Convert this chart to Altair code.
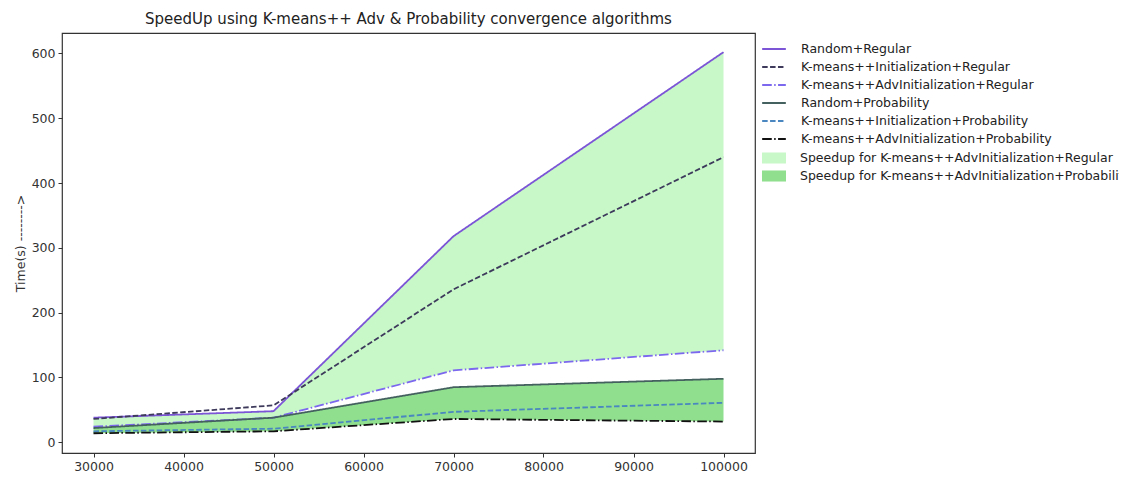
import altair as alt
import pandas as pd

# ---- data ----
sizes = [30000, 50000, 70000, 100000]
random_regular = [38, 48, 318, 602]
init_regular = [36, 57, 236, 440]
adv_regular = [24, 38, 111, 142]
random_prob = [22, 38, 85, 98]
init_prob = [17, 21, 47, 61]
adv_prob = [14, 17, 36, 32]

series_names = [
    "Random+Regular",
    "K-means++Initialization+Regular",
    "K-means++AdvInitialization+Regular",
    "Random+Probability",
    "K-means++Initialization+Probability",
    "K-means++AdvInitialization+Probability",
]
fill_names = [
    "Speedup for K-means++AdvInitialization+Regular",
    "Speedup for K-means++AdvInitialization+Probability",
]
series_values = [random_regular, init_regular, adv_regular, random_prob, init_prob, adv_prob]

line_colors = ["#7b55d6", "#3d3a5c", "#7b68ee", "#44605f", "#4a86bf", "#111111"]
fill_colors = ["#c8f8c8", "#8fdf8f"]

dash_solid = [1, 0]
dash_dashed = [5.5, 2.4]
dash_dashdot = [9.6, 2.4, 1.5, 2.4]
dashes = [dash_solid, dash_dashed, dash_dashdot, dash_solid, dash_dashed, dash_dashdot]

rows = []
for name, vals in zip(series_names, series_values):
    for xv, yv in zip(sizes, vals):
        rows.append({"size": xv, "time": yv, "series": name})
lines_df = pd.DataFrame(rows)

area_rows = []
for xv, hi, lo in zip(sizes, random_regular, adv_regular):
    area_rows.append({"size": xv, "hi": hi, "lo": lo, "band": fill_names[0]})
for xv, hi, lo in zip(sizes, random_prob, adv_prob):
    area_rows.append({"size": xv, "hi": hi, "lo": lo, "band": fill_names[1]})
area_df = pd.DataFrame(area_rows)

font = "DejaVu Sans"

x_enc = alt.X(
    "size:Q",
    scale=alt.Scale(domain=[26500, 103500], nice=False, zero=False),
    axis=alt.Axis(values=[30000, 40000, 50000, 60000, 70000, 80000, 90000, 100000],
                  format="d", title="Size(N) -------->", titlePadding=4),
)
y_scale = alt.Scale(domain=[-16.5, 631.5], nice=False, zero=False)
y_axis = alt.Axis(values=[0, 100, 200, 300, 400, 500, 600], title="Time(s) -------->",
                  titlePadding=4)

common_legend = dict(
    title=None, orient="none", labelFont=font, labelFontSize=12.5, labelColor="#222",
    labelLimit=600, labelOffset=14, rowPadding=0, clipHeight=18, padding=0,
)

areas = alt.Chart(area_df).mark_area(opacity=1).encode(
    x=x_enc,
    y=alt.Y("hi:Q", scale=y_scale, axis=y_axis),
    y2="lo:Q",
    fill=alt.Fill("band:N", scale=alt.Scale(domain=fill_names, range=fill_colors),
                  legend=alt.Legend(legendX=700, legendY=116,
                                    symbolType="M-1,-0.46H1V0.46H-1Z", symbolSize=576,
                                    symbolStrokeWidth=0, symbolOpacity=1,
                                    **common_legend)),
)

line_legend = alt.Legend(legendX=699, legendY=7, symbolType="stroke", symbolSize=560,
                         symbolStrokeWidth=1.8, **common_legend)

lines = alt.Chart(lines_df).mark_line(strokeWidth=1.8).encode(
    x=x_enc,
    y=alt.Y("time:Q", scale=y_scale, axis=y_axis),
    color=alt.Color("series:N", scale=alt.Scale(domain=series_names, range=line_colors),
                    legend=line_legend),
    strokeDash=alt.StrokeDash("series:N", scale=alt.Scale(domain=series_names, range=dashes),
                              legend=line_legend),
)

chart = alt.layer(areas, lines).resolve_legend(fill="independent").properties(
    width=693, height=420,
    title=alt.TitleParams("SpeedUp using K-means++ Adv & Probability convergence algorithms",
                          font=font, fontSize=15, fontWeight="normal", color="#222",
                          anchor="middle", offset=6),
    autosize=alt.AutoSizeParams(type="none"),
    padding={"left": 54, "top": 25, "right": 364, "bottom": 23},
).configure_view(
    stroke="#333", strokeWidth=1.2
).configure_axis(
    domain=False, grid=False, ticks=True, tickSize=4, tickColor="#333",
    labelFont=font, labelFontSize=12.5, labelColor="#333",
    titleFont=font, titleFontSize=12.5, titleFontWeight="normal", titleColor="#333",
    labelPadding=3,
)

chart.save("out.html", embed_options={"renderer": "svg", "actions": False})
